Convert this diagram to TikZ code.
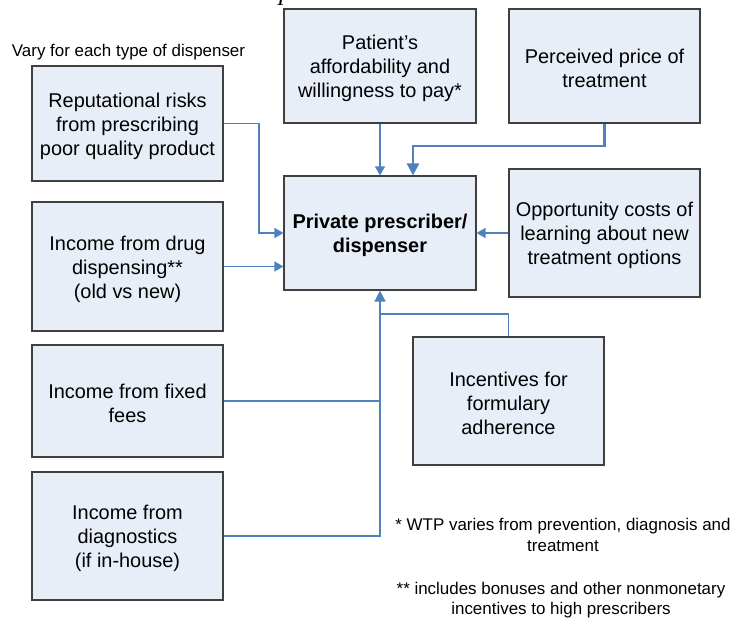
\documentclass[tikz,border=0pt]{standalone}
\usepackage{fontspec}
\setmainfont{Liberation Sans}
\newfontfamily\serifmark{Liberation Serif}
\usetikzlibrary{arrows.meta}
\definecolor{boxfill}{RGB}{232,238,248}
\definecolor{boxline}{RGB}{64,64,64}
\definecolor{connblue}{RGB}{79,129,189}
\tikzset{
  boxnode/.style={draw=boxline, fill=boxfill, line width=1.2bp, inner sep=0pt},
  boxtext/.style={inner sep=0pt, align=center, font=\fontsize{20}{24}\selectfont},
  conn/.style={draw=connblue, line width=1.3bp},
  connarrow/.style={conn, -{Triangle[length=9bp,width=10bp]}},
  thickarrow/.style={draw=connblue, line width=2.6bp, -{Triangle[length=12bp,width=12bp]}},
  bigarrow/.style={conn, line width=1.6bp, -{Triangle[length=11bp,width=11bp]}},
  note/.style={inner sep=0pt, align=center, font=\fontsize{17}{20.5}\selectfont}
}
\begin{document}
\begin{tikzpicture}[x=1bp,y=-1bp]
\useasboundingbox (0,0) rectangle (732,618);
\fill[white] (0,0) rectangle (732,618);

\node[inner sep=0pt, font=\serifmark\itshape\fontsize{22}{24}\selectfont] (mark) at (281,-1.5) {I};

\node[note] (vary) at (128.5,52) {Vary for each type of dispenser};

\node[boxnode, minimum width=191bp, minimum height=115bp] (A) at (127.5,123.5) {};
\node[boxnode, minimum width=191bp, minimum height=129bp] (B) at (127.5,266.5) {};
\node[boxnode, minimum width=191bp, minimum height=112bp] (C) at (127.5,401) {};
\node[boxnode, minimum width=191bp, minimum height=128bp] (D) at (127.5,536) {};
\node[boxnode, minimum width=192bp, minimum height=114bp] (E) at (380,66) {};
\node[boxnode, minimum width=191bp, minimum height=114bp] (F) at (604.5,66) {};
\node[boxnode, minimum width=192bp, minimum height=114bp] (G) at (380,233) {};
\node[boxnode, minimum width=191bp, minimum height=128bp] (H) at (604.5,233) {};
\node[boxnode, minimum width=191bp, minimum height=128bp] (I) at (508.5,401) {};

\node[boxtext] (At) at ([yshift=-2.5bp]A.center) {Reputational risks\\from prescribing\\poor quality product};
\node[boxtext] (Bt) at ([yshift=-2.5bp]B.center) {Income from drug\\dispensing**\\(old vs new)};
\node[boxtext] (Ct) at ([yshift=-2.5bp]C.center) {Income from fixed\\fees};
\node[boxtext] (Dt) at ([yshift=-2.5bp]D.center) {Income from\\diagnostics\\(if in-house)};
\node[boxtext] (Et) at ([yshift=-2.5bp]E.center) {Patient's\\affordability and\\willingness to pay*};
\node[boxtext] (Ft) at ([yshift=-2.5bp]F.center) {Perceived price of\\treatment};
\node[boxtext, font=\bfseries\fontsize{20}{24}\selectfont] (Gt) at ([yshift=-2bp]G.center) {Private prescriber/\\dispenser};
\node[boxtext] (Ht) at ([yshift=-2.5bp]H.center) {Opportunity costs of\\learning about new\\treatment options};
\node[boxtext] (It) at ([yshift=-2.5bp]I.center) {Incentives for\\formulary\\adherence};

\node[note] (n1) at (563,535) {* WTP varies from prevention, diagnosis and\\treatment};
\node[note] (n2) at (561,600) {** includes bonuses and other nonmonetary\\incentives to high prescribers};

\coordinate (ka) at (259,233);
\coordinate (jf) at (413,146);
\coordinate (ji) at (380,314);

\draw[connarrow] (A.east) -| (ka) -- (G.west);
\draw[connarrow] (B.east) -- (B.east -| G.west);
\draw[connarrow] (E.south) -- (G.north);
\draw[thickarrow] (F.south) |- (jf) -- (jf |- G.north);
\draw[connarrow] (H.west) -- (H.west -| G.east);
\draw[conn] (C.east) -- (C.east -| G.south);
\draw[conn] (I.north) |- (ji);
\draw[bigarrow] (D.east) -| (G.south);
\end{tikzpicture}
\end{document}
